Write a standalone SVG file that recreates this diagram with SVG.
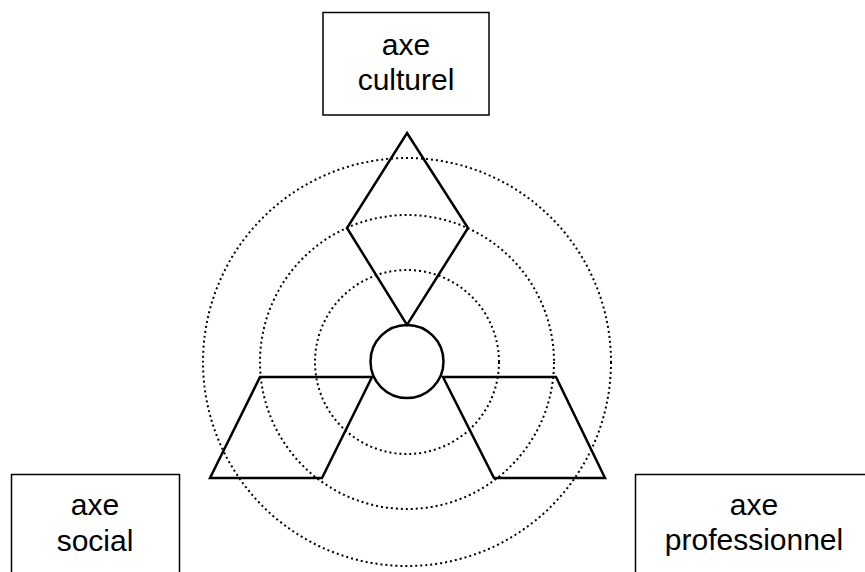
<svg xmlns="http://www.w3.org/2000/svg" width="865" height="572" viewBox="0 0 865 572">
<style>
.bg{fill:#fff}
.box{fill:#fff;stroke:#000;stroke-width:1.5}
.lbl{font-family:"Liberation Sans",Arial,sans-serif;font-size:30px;fill:#000;text-anchor:middle}
.dot{fill:none;stroke:#000;stroke-width:2;stroke-dasharray:2 3}
.sh{fill:none;stroke:#000;stroke-width:2.5;stroke-linejoin:miter}
</style>
<rect class="bg" x="0" y="0" width="865" height="572"/>
<g id="rings">
<circle class="dot" cx="407" cy="362" r="204"/>
<circle class="dot" cx="407" cy="362" r="147"/>
<circle class="dot" cx="407" cy="362" r="92"/>
</g>
<g id="connectors">
<polygon class="sh" points="407,133 468,228 407,325 347,228"/>
<polygon class="sh" points="260,377 372,377 322,478 210,478"/>
<polygon class="sh" points="443,377 556,377 605,478 494,478"/>
</g>
<g id="center">
<circle class="sh" fill="#fff" cx="407" cy="361.5" r="36.5"/>
</g>
<g id="culturel">
<rect class="box" x="323" y="12.5" width="166" height="102.5"/>
<text class="lbl" x="406" y="55">axe</text>
<text class="lbl" x="406" y="90">culturel</text>
</g>
<g id="social">
<rect class="box" x="11.5" y="474.5" width="168" height="110"/>
<text class="lbl" x="95" y="515">axe</text>
<text class="lbl" x="95" y="551">social</text>
</g>
<g id="professionnel">
<rect class="box" x="635.5" y="474.5" width="240" height="110"/>
<text class="lbl" x="754" y="515">axe</text>
<text class="lbl" x="754" y="550">professionnel</text>
</g>
</svg>
